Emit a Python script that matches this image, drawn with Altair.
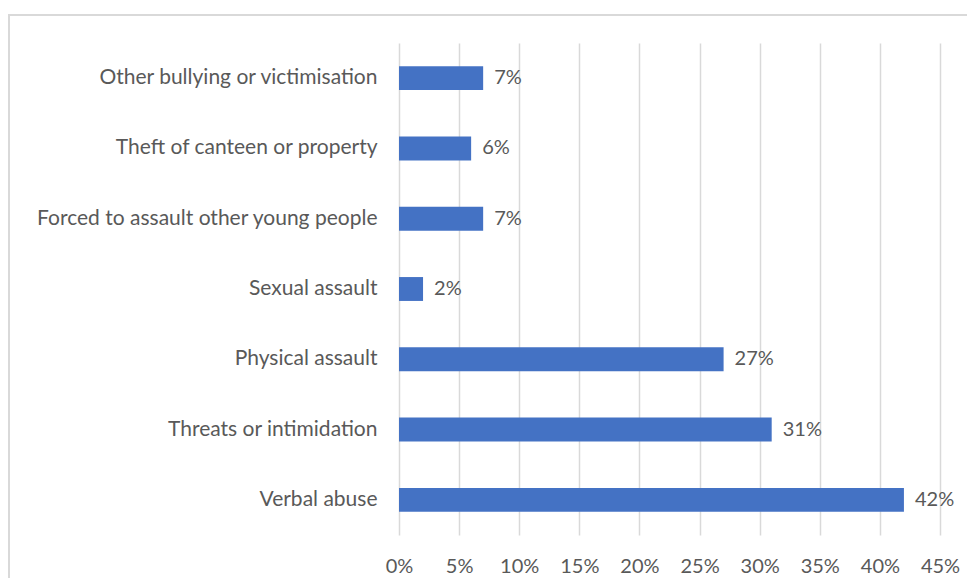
import altair as alt
import pandas as pd

categories = [
    "Other bullying or victimisation",
    "Theft of canteen or property ",
    "Forced to assault other young people",
    "Sexual assault",
    "Physical assault",
    "Threats or intimidation ",
    "Verbal abuse",
]
values = [7, 6, 7, 2, 27, 31, 42]
labels = ["7%", "6%", "7%", "2%", "27%", "31%", "42%"]
tick_values = [0, 0.05, 0.10, 0.15, 0.20, 0.25, 0.30, 0.35, 0.40, 0.45]

df = pd.DataFrame({"cat": categories, "val": [v / 100 for v in values], "lab": labels})

FONT = "Lato"
GRAY = "#595959"

x = alt.X("val:Q", scale=alt.Scale(domain=[0, 0.45], nice=False),
          axis=alt.Axis(format=".0%", values=tick_values, labelFlush=False,
                        title=None, domain=False, ticks=False, labelPadding=21,
                        labelFontSize=20, labelColor=GRAY, labelFont=FONT,
                        grid=True, gridColor="#d9d9d9", gridWidth=1.5))
y = alt.Y("cat:N", sort=categories,
          scale=alt.Scale(paddingInner=0.66, paddingOuter=0.33),
          axis=alt.Axis(title=None, domain=False, ticks=False, labelPadding=22,
                        labelFontSize=21, labelColor=GRAY, labelFont=FONT,
                        labelLimit=420))

frame = alt.Chart(df).mark_rect(fill=None, stroke="#d9d9d9", strokeWidth=2).encode(
    x=alt.value(-390), x2=alt.value(700), y=alt.value(-28), y2=alt.value(700)
)

bars = alt.Chart(df).mark_bar(color="#4472C4").encode(x=x, y=y)
text = alt.Chart(df).mark_text(align="left", dx=11, fontSize=20, color=GRAY, font=FONT).encode(
    x="val:Q", y=alt.Y("cat:N", sort=categories), text="lab:N"
)

chart = alt.layer(frame, bars, text).properties(
    width=541, height=492,
    background="white",
    autosize=alt.AutoSizeParams(type="none"),
    padding={"left": 391, "top": 35, "right": 27, "bottom": 43},
).configure_view(stroke=None)

chart.save("out.html", embed_options={"renderer": "svg", "actions": False})
